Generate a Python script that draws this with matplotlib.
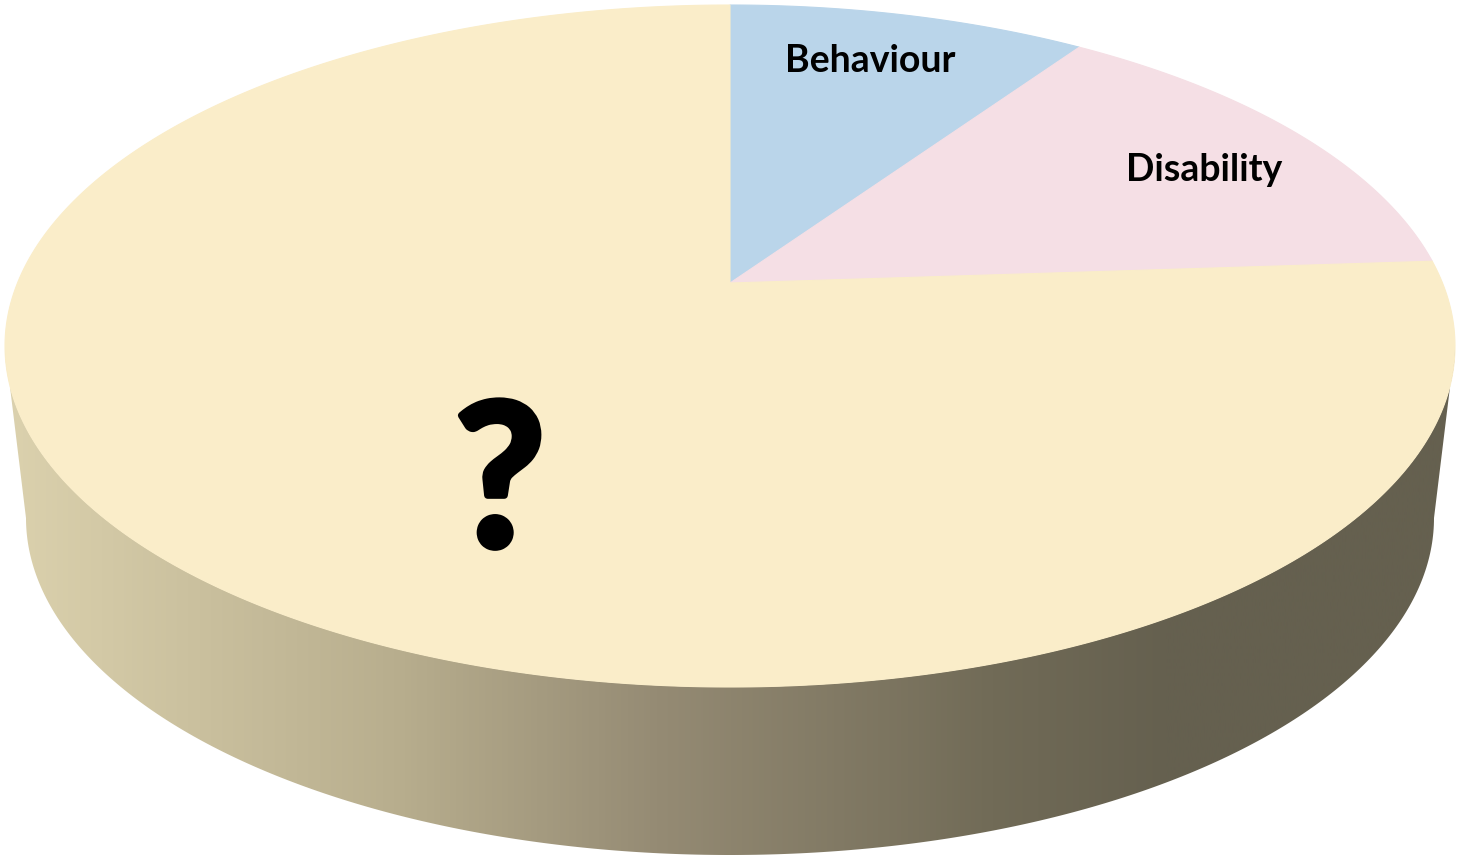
import numpy as np
import matplotlib
matplotlib.use("Agg")
import matplotlib.pyplot as plt
import matplotlib.patheffects as pe
from matplotlib.patches import Polygon
from matplotlib.colors import LinearSegmentedColormap

# slice data (percent of pie), clockwise from 12 o'clock
labels = ["Behaviour", "Disability", "?"]
values = [8, 13, 79]
colors = ["#bad5ea", "#f5dfe5", "#faedc9"]

# geometry in pixel units of the 1461x859 canvas
cx, cy, a, b = 730, 346, 725, 341        # top face ellipse
apex = (730, 283)                         # where slices meet (perspective)
bcx, bcy, ba, bb = 730, 518, 704, 337     # bottom rim ellipse


def ell(t, x0, y0, rx, ry):
    return x0 + rx * np.cos(t), y0 - ry * np.sin(t)


fig = plt.figure(figsize=(14.61, 8.59), dpi=100)
ax = fig.add_axes([0, 0, 1, 1])
ax.set_xlim(0, 1461)
ax.set_ylim(859, 0)
ax.axis("off")

# side wall: lower half of top rim down to lower half of bottom rim
t = np.linspace(np.pi, 2 * np.pi, 300)
tx, ty = ell(t, cx, cy, a, b)
bx, by = ell(t[::-1], bcx, bcy, ba, bb)
side = Polygon(np.column_stack([np.r_[tx, bx], np.r_[ty, by]]),
               closed=True, facecolor="none", edgecolor="none")
ax.add_patch(side)
side_cmap = LinearSegmentedColormap.from_list(
    "side", [(0, "#dcd2ae"), (0.27, "#b8ae8e"), (0.45, "#958b74"),
             (0.68, "#716b57"), (0.8, "#65604f"), (1, "#65604f")])
grad = np.linspace(0, 1, 512)[None, :]
im = ax.imshow(grad, cmap=side_cmap, extent=[0, 1461, 859, 0],
               aspect="auto", zorder=1)
im.set_clip_path(side)

# top face slices
cum = np.r_[0, np.cumsum(values)] / sum(values)
for i in range(len(values)):
    t0 = np.pi / 2 - 2 * np.pi * cum[i]
    t1 = np.pi / 2 - 2 * np.pi * cum[i + 1]
    ts = np.linspace(t0, t1, 400)
    px, py = ell(ts, cx, cy, a, b)
    pts = np.column_stack([np.r_[apex[0], px], np.r_[apex[1], py]])
    ax.add_patch(Polygon(pts, closed=True, facecolor=colors[i],
                         edgecolor=colors[i], linewidth=0.8, zorder=2))

font = ["Lato", "DejaVu Sans"]
ax.text(870, 72, labels[0], fontsize=27, fontweight="bold", family=font,
        ha="center", va="baseline", zorder=3)
ax.text(1204, 181, labels[1], fontsize=27, fontweight="bold", family=font,
        ha="center", va="baseline", zorder=3)
# big "?" - Lato bold thickened a little with a stroke
ax.text(500, 546, labels[2], fontsize=143, fontweight="bold", family=font,
        ha="center", va="baseline", zorder=3,
        path_effects=[pe.withStroke(linewidth=5, foreground="black")])

fig.savefig("out.png", dpi=100)
